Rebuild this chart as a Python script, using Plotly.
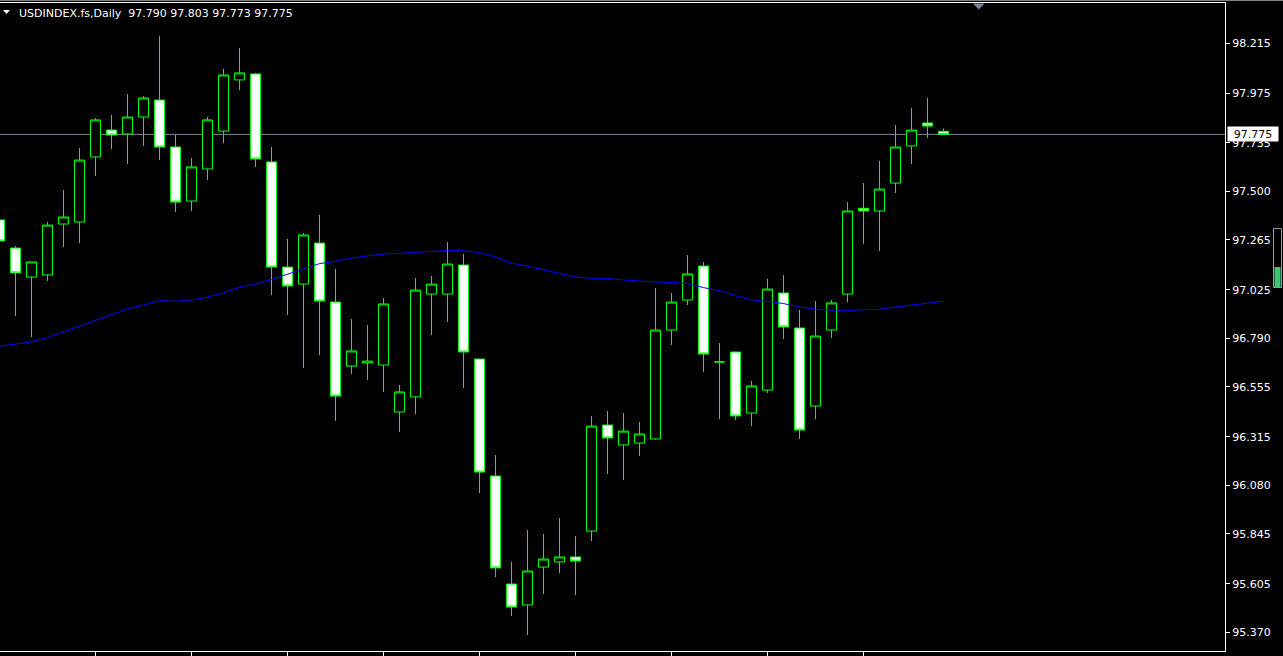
import plotly.graph_objects as go

# ---- data ----
symbol = "USDINDEX.fs,Daily"

opens = [97.362, 97.226, 97.086, 97.096, 97.342, 97.352, 97.666, 97.796, 97.777, 97.859,
         97.941, 97.714, 97.453, 97.608, 97.791, 98.038, 98.067, 97.642, 97.134, 97.052,
         97.250, 96.965, 96.656, 96.671, 96.661, 96.434, 96.507, 97.004, 97.004, 97.144,
         96.690, 96.125, 95.603, 95.502, 95.685, 95.710, 95.734, 95.859, 96.371, 96.275,
         96.284, 96.304, 96.830, 96.975, 97.139, 96.676, 96.724, 96.429, 96.540, 97.009,
         96.840, 96.463, 96.830, 97.004, 97.418, 97.405, 97.540, 97.719, 97.830, 97.790]
highs = [97.371, 97.236, 97.159, 97.352, 97.506, 97.709, 97.854, 97.869, 97.970, 97.960,
         98.250, 97.772, 97.661, 97.859, 98.091, 98.192, 98.072, 97.714, 97.270, 97.299,
         97.386, 97.125, 96.883, 96.854, 96.985, 96.565, 97.081, 97.091, 97.255, 97.197,
         96.692, 96.226, 95.710, 95.864, 95.845, 95.922, 95.835, 96.415, 96.439, 96.429,
         96.386, 97.033, 97.009, 97.192, 97.159, 96.767, 96.726, 96.584, 97.077, 97.096,
         96.927, 96.970, 96.975, 97.448, 97.540, 97.647, 97.820, 97.903, 97.951, 97.803]
lows = [97.250, 96.898, 96.796, 97.067, 97.231, 97.250, 97.574, 97.704, 97.632, 97.719,
        97.651, 97.400, 97.405, 97.555, 97.733, 97.989, 97.618, 96.999, 96.903, 96.647,
        96.709, 96.391, 96.618, 96.589, 96.531, 96.338, 96.424, 96.806, 96.869, 96.550,
        96.043, 95.637, 95.449, 95.357, 95.555, 95.656, 95.550, 95.811, 96.135, 96.106,
        96.222, 96.300, 96.758, 96.951, 96.627, 96.400, 96.395, 96.366, 96.526, 96.787,
        96.304, 96.400, 96.792, 96.965, 97.246, 97.212, 97.492, 97.632, 97.758, 97.773]
closes = [97.260, 97.106, 97.159, 97.337, 97.376, 97.651, 97.845, 97.772, 97.859, 97.951,
          97.714, 97.448, 97.618, 97.845, 98.062, 98.072, 97.656, 97.134, 97.043, 97.289,
          96.970, 96.511, 96.729, 96.680, 96.956, 96.531, 97.023, 97.052, 97.149, 96.724,
          96.144, 95.681, 95.492, 95.666, 95.724, 95.734, 95.714, 96.366, 96.309, 96.342,
          96.328, 96.830, 96.965, 97.101, 96.714, 96.676, 96.415, 96.560, 97.028, 96.845,
          96.347, 96.801, 96.961, 97.405, 97.405, 97.511, 97.714, 97.796, 97.815, 97.775]
ma_values = [96.752, 96.763, 96.773, 96.794, 96.822, 96.850, 96.878, 96.907, 96.932, 96.952,
             96.972, 96.969, 96.975, 96.989, 97.010, 97.037, 97.052, 97.074, 97.099, 97.124,
             97.151, 97.162, 97.178, 97.188, 97.197, 97.201, 97.205, 97.210, 97.214, 97.213,
             97.204, 97.183, 97.153, 97.138, 97.120, 97.104, 97.086, 97.080, 97.079, 97.072,
             97.066, 97.062, 97.060, 97.054, 97.035, 97.020, 96.996, 96.976, 96.968, 96.958,
             96.941, 96.931, 96.926, 96.925, 96.928, 96.930, 96.941, 96.951, 96.958, 96.969]
price_ticks = [98.215, 97.975, 97.735, 97.500, 97.265, 97.025, 96.790,
               96.555, 96.315, 96.080, 95.845, 95.605, 95.370]
time_tick_bars = [6, 12, 18, 24, 30, 36, 42, 48, 54]

idx = list(range(len(opens)))

# ---- styling ----
W, H = 1283, 656
ML, MR, MT, MB = 0, 58, 3, 5
PW, PH = W - ML - MR, H - MT - MB
BAR_PX = 16.0
FONT = "DejaVu Sans"
LIME = "#00FF00"
BIDLINE = "#778899"


def px_x(px):
    return px / PW


def px_y(py):
    return (H - MB - py) / PH


y_range = [95.2797, 98.4097]
x_range = [(0 + 0.5) / BAR_PX, (PW + 0.5) / BAR_PX]

fig = go.Figure()

fig.add_trace(go.Candlestick(
    x=idx, open=opens, high=highs, low=lows, close=closes,
    increasing=dict(line=dict(color=LIME, width=1), fillcolor="#000000"),
    decreasing=dict(line=dict(color=LIME, width=1), fillcolor="#FFFFFF"),
    whiskerwidth=0,
    showlegend=False, hoverinfo="skip",
))

fig.add_trace(go.Scatter(
    x=idx, y=ma_values, mode="lines",
    line=dict(color="#0000FF", width=1),
    showlegend=False, hoverinfo="skip",
))

last_o, last_h, last_l, last_c = opens[-1], highs[-1], lows[-1], closes[-1]

shapes = [
    # bid line
    dict(type="line", xref="paper", yref="y", x0=0, x1=1, y0=last_c, y1=last_c,
         line=dict(color=BIDLINE, width=1), layer="below"),
    # window top edge
    dict(type="line", xref="paper", yref="paper", x0=0, x1=W / PW,
         y0=px_y(0.5), y1=px_y(0.5), line=dict(color="#808080", width=1)),
    # header triangle
    dict(type="path", xref="paper", yref="paper",
         path=f"M {px_x(3)} {px_y(10)} L {px_x(10)} {px_y(10)} L {px_x(6.5)} {px_y(14)} Z",
         fillcolor="#FFFFFF", line=dict(width=0)),
    # chart shift marker
    dict(type="path", xref="paper", yref="paper",
         path=f"M {px_x(973)} {px_y(3.5)} L {px_x(984.5)} {px_y(3.5)} L {px_x(978.75)} {px_y(9.5)} Z",
         fillcolor=BIDLINE, line=dict(width=0)),
    # scroll indicator
    dict(type="rect", xref="paper", yref="paper",
         x0=px_x(1273.5), x1=px_x(1281.5), y0=px_y(228.5), y1=px_y(287.5),
         line=dict(color="#9A9A9A", width=1), fillcolor="#000000"),
    dict(type="rect", xref="paper", yref="paper",
         x0=px_x(1274.5), x1=px_x(1280.5), y0=px_y(267), y1=px_y(287),
         line=dict(width=0), fillcolor="#3CC46E"),
]

annotations = [
    dict(xref="paper", yref="paper", x=px_x(17), y=px_y(14), xanchor="left", yanchor="middle",
         text=f"{symbol}\u00a0\u00a0{last_o:.3f} {last_h:.3f} {last_l:.3f} {last_c:.3f}",
         showarrow=False, font=dict(family=FONT, size=11, color="#FFFFFF")),
    dict(xref="paper", yref="y", x=px_x(1226.5), y=last_c, xanchor="left", yanchor="middle",
         text=f"{last_c:.3f}", showarrow=False, bgcolor="#FFFFFF", borderpad=1,
         width=48, height=12, align="center",
         font=dict(family=FONT, size=11, color="#000000")),
]

fig.update_layout(
    width=W, height=H,
    margin=dict(l=ML, r=MR, t=MT, b=MB, pad=0),
    paper_bgcolor="#000000", plot_bgcolor="#000000",
    boxgap=0.375, boxgroupgap=0,
    showlegend=False,
    hovermode=False,
    xaxis=dict(
        range=x_range, rangeslider=dict(visible=False),
        showgrid=False, zeroline=False,
        showline=True, linecolor="#FFFFFF", linewidth=1, mirror=True,
        ticks="outside", ticklen=4, tickwidth=1, tickcolor="#FFFFFF",
        tickmode="array", tickvals=time_tick_bars, showticklabels=False,
    ),
    yaxis=dict(
        range=y_range, side="right",
        showgrid=False, zeroline=False,
        showline=True, linecolor="#FFFFFF", linewidth=1,
        ticks="outside", ticklen=4, tickwidth=1, tickcolor="#FFFFFF",
        tickmode="array", tickvals=price_ticks,
        ticktext=[f"{v:.3f}" for v in price_ticks],
        tickfont=dict(family=FONT, size=11, color="#FFFFFF"),
    ),
    shapes=shapes,
    annotations=annotations,
)

fig.write_html(
    "out.html",
    config={"displayModeBar": False},
    post_script="document.body.style.margin='0';document.body.style.padding='0';"
                "document.body.style.overflow='hidden';"
                "document.body.style.background='#000000';",
)
